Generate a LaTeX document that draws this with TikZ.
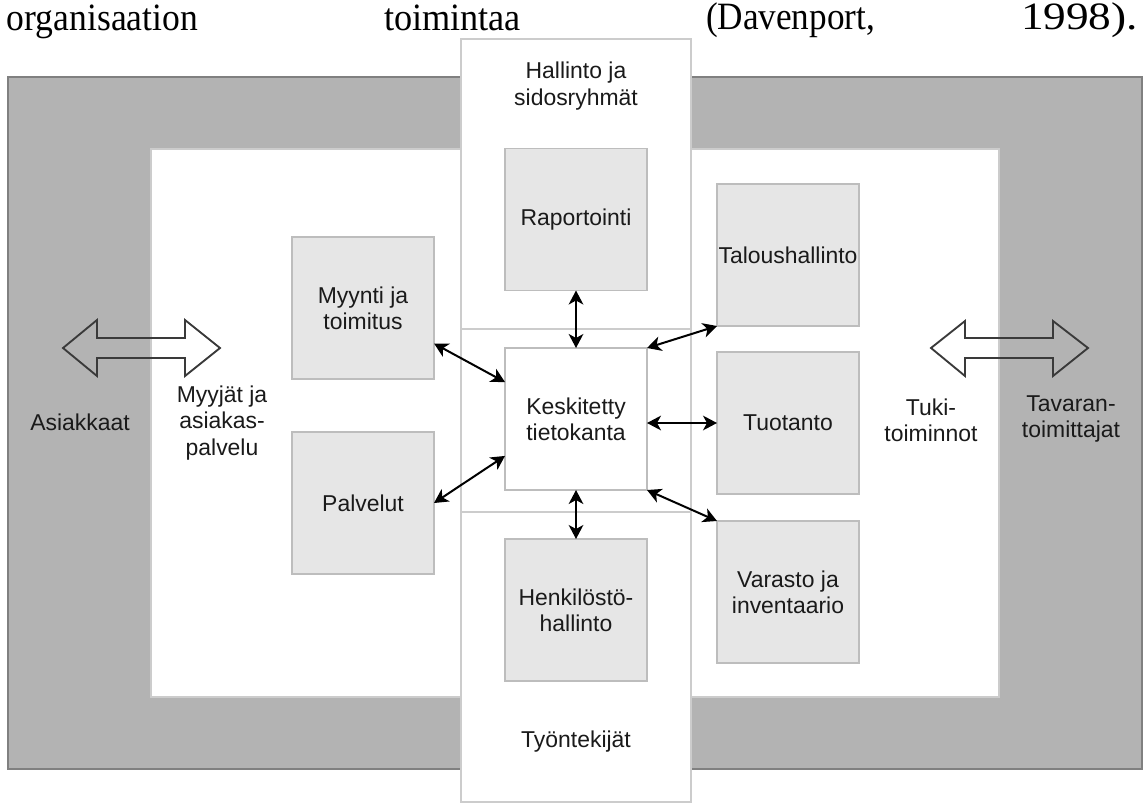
\documentclass[tikz,border=0pt]{standalone}
\usepackage{fontspec}
\setmainfont{Liberation Sans}
\newfontfamily\serifx{Liberation Serif}
\usetikzlibrary{arrows.meta,calc}
\definecolor{outerg}{HTML}{B3B3B3}
\definecolor{outerd}{HTML}{808080}
\definecolor{boxg}{HTML}{E6E6E6}
\definecolor{boxd}{HTML}{BDBDBD}
\definecolor{colline}{HTML}{CCCCCC}
\definecolor{barrow}{HTML}{3A3A3A}
\definecolor{txtc}{HTML}{1A1A1A}
\begin{document}
\begin{tikzpicture}[x=0.75pt,y=-0.75pt,
  outerbox/.style={draw=outerd, fill=outerg, line width=1.2pt, minimum width=850.5pt, minimum height=519pt, inner sep=0, outer sep=0},
  innerbox/.style={draw=colline, fill=white, line width=1pt, minimum width=636pt, minimum height=411pt, inner sep=0, outer sep=0},
  colbox/.style={draw=colline, fill=white, line width=1.2pt, minimum width=172.5pt, inner sep=0, outer sep=0},
  smallbox/.style={draw=boxd, fill=boxg, line width=1.2pt, minimum width=106.5pt, minimum height=106.5pt, inner sep=0, outer sep=0, align=center, font=\fontsize{17.2}{19.8}\selectfont, text=txtc},
  centerbox/.style={smallbox, fill=white},
  txt/.style={align=center, font=\fontsize{17.2}{19.8}\selectfont, text=txtc, inner sep=0},
  link/.style={{Stealth[length=10.5pt,width=11pt,inset=3pt]}-{Stealth[length=10.5pt,width=11pt,inset=3pt]}, line width=1.5pt, draw=black},
  blockarrow/.style={draw=barrow, line width=1.4pt, fill=none},
  topword/.style={anchor=base west, inner sep=0, outer sep=0, text=black}
]
\useasboundingbox (0,0) rectangle (1148,803);

% running text line
\node[topword] (w1) at (7,30) {\resizebox{143.25pt}{\height}{\serifx\fontsize{29}{34}\selectfont organisaation}};
\node[topword] (w2) at (384,30) {\resizebox{102.75pt}{\height}{\serifx\fontsize{29}{34}\selectfont toimintaa}};
\node[topword] (w3) at (706,30) {\resizebox{126.75pt}{\height}{\serifx\fontsize{29}{34}\selectfont (Davenport,}};
\node[topword] (w4) at (1021,30) {\resizebox{87.75pt}{\height}{\serifx\fontsize{29}{34}\selectfont 1998).}};

% frames
\node[outerbox] (org) at (575,423) {};
\node[innerbox] (inner) at (575,423) {};
\node[colbox, minimum height=217.5pt] (hall) at (576,184) {};
\node[colbox, minimum height=217.5pt] (tyo) at (576,657) {};
\node[colbox, minimum height=137.25pt] (mid) at (576,420.5) {};

% block arrows
\draw[blockarrow] (63,348) -- (97,320) -- (97,338) -- (185,338) -- (185,320) -- (220,348)
  -- (185,376) -- (185,358) -- (97,358) -- (97,376) -- cycle;
\draw[blockarrow] (931,348) -- (965,321) -- (965,338) -- (1053,338) -- (1053,321) -- (1088,348)
  -- (1053,376) -- (1053,358) -- (965,358) -- (965,376) -- cycle;

% boxes
\node[smallbox] (rap) at (576,219.5) {Raportointi};
\node[smallbox] (myy) at (363,308) {Myynti ja\\toimitus};
\node[smallbox] (pal) at (363,503) {Palvelut};
\node[centerbox] (kes) at (576,419) {Keskitetty\\tietokanta};
\node[smallbox] (hen) at (576,610) {Henkilöstö-\\hallinto};
\node[smallbox] (tal) at (788,255) {Taloushallinto};
\node[smallbox] (tuo) at (788,423) {Tuotanto};
\node[smallbox] (var) at (788,592) {Varasto ja\\inventaario};

% labels
\node[txt] (hallt) at (576,86) {Hallinto ja\\sidosryhmät};
\node[txt] (tyot) at (576,742) {Työntekijät};
\node[txt] (asi) at (80,422) {Asiakkaat};
\node[txt] (myyj) at (222,423) {Myyjät ja\\asiakas-\\palvelu};
\node[txt] (tuki) at (931,420) {Tuki-\\toiminnot};
\node[txt] (tav) at (1071,419) {Tavaran-\\toimittajat};

% connectors
\draw[link] (rap.south) -- (kes.north);
\draw[link] (kes.south) -- (hen.north);
\draw[link] ($(myy.north east)!0.75!(myy.south east)$) -- ($(kes.north west)!0.24!(kes.south west)$);
\draw[link] (pal.east) -- ($(kes.north west)!0.76!(kes.south west)$);
\draw[link] (kes.north east) -- (tal.south west);
\draw[link] (kes.east |- tuo.west) -- (tuo.west);
\draw[link] (kes.south east) -- (var.north west);
\end{tikzpicture}
\end{document}
